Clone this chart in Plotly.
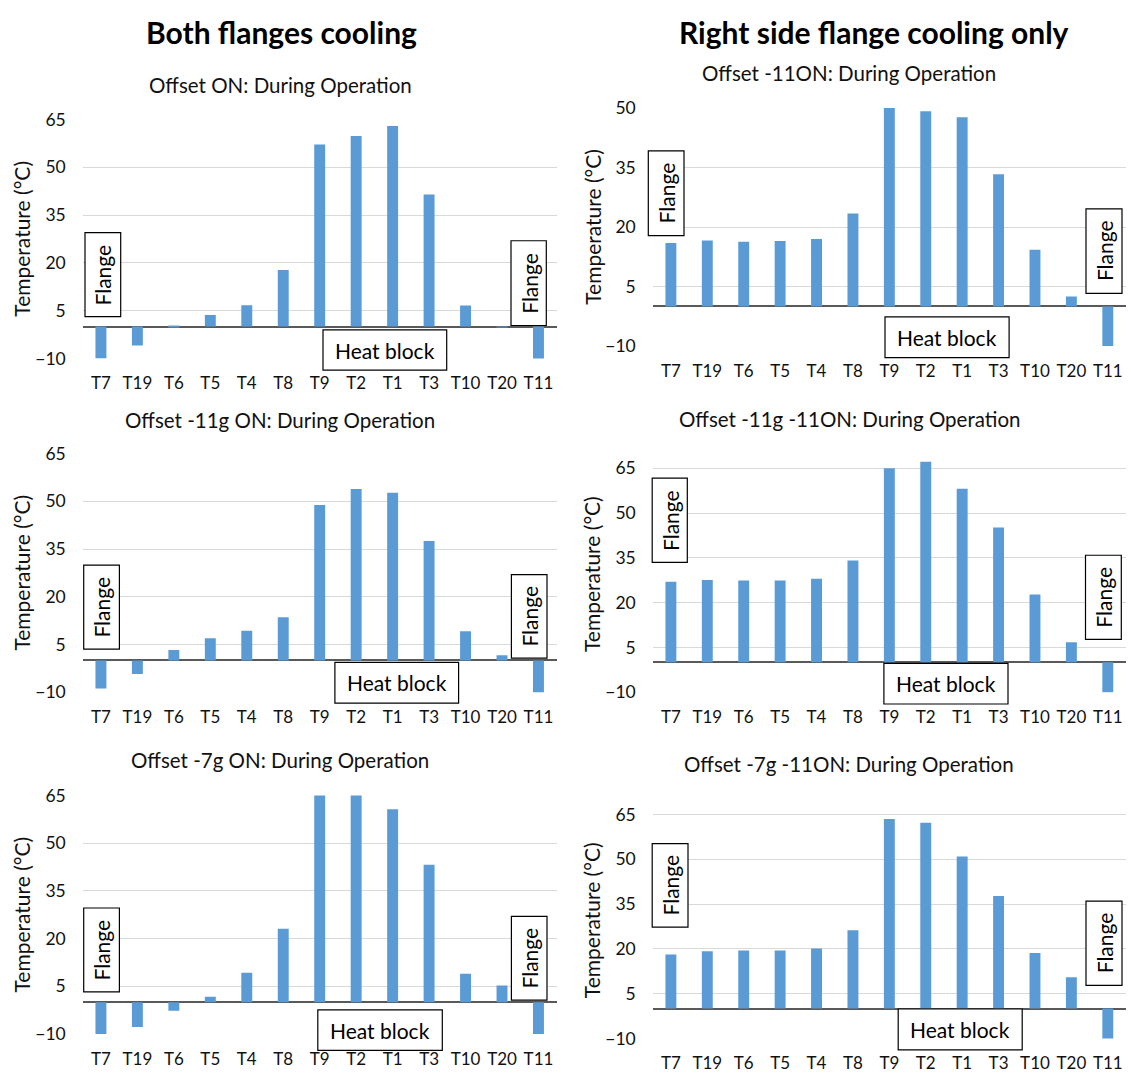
import plotly.graph_objects as go

W, H = 1131, 1084

categories = ["T7", "T19", "T6", "T5", "T4", "T8", "T9", "T2", "T1", "T3", "T10", "T20", "T11"]

both_offset_on = [-10.0, -5.9, 0.2, 3.6, 6.7, 17.8, 57.2, 59.8, 63.0, 41.5, 6.6, -0.3, -10.4]
both_offset_m11g = [-8.8, -4.3, 3.3, 7.0, 9.3, 13.6, 48.8, 53.9, 52.7, 37.5, 9.2, 1.6, -10.2]
both_offset_m7g = [-10.3, -7.8, -2.7, 1.7, 9.3, 23.1, 65.5, 65.5, 60.7, 43.2, 9.0, 5.3, -10.3]
right_offset_m11 = [16.0, 16.6, 16.3, 16.5, 17.0, 23.4, 50.0, 49.2, 47.7, 33.3, 14.3, 2.5, -10.2]
right_offset_m11g = [27.0, 27.6, 27.4, 27.4, 28.0, 34.1, 65.0, 67.2, 58.1, 45.2, 22.7, 6.7, -10.2]
right_offset_m7g = [18.1, 19.2, 19.4, 19.4, 20.1, 26.2, 63.5, 62.2, 50.9, 37.7, 18.6, 10.5, -10.2]

titles = [
    "Offset ON: During Operation",
    "Offset -11ON: During Operation",
    "Offset -11g ON: During Operation",
    "Offset -11g -11ON: During Operation",
    "Offset -7g ON: During Operation",
    "Offset -7g -11ON: During Operation",
]
column_headers = ["Both flanges cooling", "Right side flange cooling only"]
y_title = "Temperature (°C)"
series = [both_offset_on, right_offset_m11, both_offset_m11g,
          right_offset_m11g, both_offset_m7g, right_offset_m7g]
y_ranges = [[-10, 65], [-10, 50], [-10, 65], [-10, 69], [-10, 65], [-10, 69]]

# layout (pixels)
x_doms_px = [(82.7, 556.7), (652.7, 1126.0)] * 3
y_doms_px = [(110.7, 354.3), (99.0, 341.7), (451.3, 694.7),
             (454.1, 694.7), (800.0, 1043.3), (807.1, 1047.7)]
title_pos = [(280, 75), (849, 63), (280, 417), (849, 416), (280, 764), (849, 768)]
header_pos = [(281, 21), (874, 21)]
ytitle_x = [21.7, 591.7] * 3
boxes = [
    [((85, 226), (120.7, 311.7)), ((511, 234.3), (546.3, 320.7)), ((323, 325.2), (446.7, 366.3))],
    [((648.3, 142.7), (684, 229)), ((1086, 201.7), (1122, 288)), ((885, 311.9), (1009.1, 353.4))],
    [((83.7, 565), (119.4, 650.7)), ((511.4, 574.7), (547, 660)), ((334.9, 664.3), (458.6, 705.7))],
    [((652.2, 476.3), (687.3, 562.3)), ((1085.5, 555), (1121.3, 640.7)), ((883.9, 665.3), (1008, 706.7))],
    [((83.7, 914.7), (119.4, 1000.3)), ((511.4, 923.3), (547, 1008.7)), ((317.8, 1018.7), (442.3, 1060))],
    [((652.2, 849), (688, 934.3)), ((1086, 907.7), (1122, 993.7)), ((898.2, 1017.7), (1022.2, 1059.3))],
]
box_texts = ["Flange", "Flange", "Heat block"]

FONT = "Lato, Carlito, 'Open Sans', sans-serif"
TXT = "#111111"
BAR = "#5B9BD5"


def px_x(v):
    return v / W


def px_y(v):
    return 1 - v / H


fig = go.Figure()
layout = dict(
    width=W, height=H, margin=dict(l=0, r=0, t=0, b=0),
    paper_bgcolor="white", plot_bgcolor="white", showlegend=False,
    bargap=0.7, font=dict(family=FONT, size=17, color=TXT),
)
annotations = []
shapes = []

for i in range(6):
    n = "" if i == 0 else str(i + 1)
    fig.add_trace(go.Bar(x=categories, y=series[i], marker=dict(color=BAR, line=dict(width=0)),
                         xaxis="x" + n, yaxis="y" + n, hoverinfo="x+y"))
    xd = x_doms_px[i]
    yd = y_doms_px[i]
    layout["xaxis" + n] = dict(
        domain=[px_x(xd[0]), px_x(xd[1])], anchor="y" + n, type="category",
        showgrid=False, showline=False, zeroline=False, ticks="",
        tickfont=dict(family=FONT, size=17, color=TXT), ticklabelstandoff=13,
        fixedrange=True,
    )
    layout["yaxis" + n] = dict(
        domain=[px_y(yd[1]), px_y(yd[0])], anchor="x" + n, range=y_ranges[i],
        tickmode="linear", tick0=-10, dtick=15,
        showgrid=True, gridcolor="#D9D9D9", gridwidth=1,
        zeroline=True, zerolinecolor="#595959", zerolinewidth=1.5,
        showline=False, ticks="", ticklabelstandoff=16,
        tickfont=dict(family=FONT, size=17.5, color=TXT), fixedrange=True,
    )
    tx, ty = title_pos[i]
    annotations.append(dict(text=titles[i], x=px_x(tx), y=px_y(ty), xref="paper", yref="paper",
                            showarrow=False, xanchor="center", yanchor="middle",
                            font=dict(family=FONT, size=20.5, color=TXT)))
    annotations.append(dict(text=y_title, x=px_x(ytitle_x[i]), y=px_y((yd[0] + yd[1]) / 2),
                            xref="paper", yref="paper", showarrow=False, textangle=-90,
                            xanchor="center", yanchor="middle",
                            font=dict(family=FONT, size=21, color=TXT)))
    for j, ((x0, y0), (x1, y1)) in enumerate(boxes[i]):
        shapes.append(dict(type="rect", xref="paper", yref="paper",
                           x0=px_x(x0), x1=px_x(x1), y0=px_y(y1), y1=px_y(y0),
                           line=dict(color="black", width=1.2), fillcolor="white", layer="above"))
        annotations.append(dict(text=box_texts[j], x=px_x((x0 + x1) / 2), y=px_y((y0 + y1) / 2),
                                xref="paper", yref="paper", showarrow=False,
                                textangle=-90 if j < 2 else 0,
                                xanchor="center", yanchor="middle",
                                font=dict(family=FONT, size=21, color="black")))

for k in range(2):
    hx, hy = header_pos[k]
    annotations.append(dict(text="<b>" + column_headers[k] + "</b>", x=px_x(hx), y=px_y(hy),
                            xref="paper", yref="paper", showarrow=False,
                            xanchor="center", yanchor="middle",
                            font=dict(family=FONT, size=30, color="black")))

layout["annotations"] = annotations
layout["shapes"] = shapes
fig.update_layout(**layout)
fig.write_html("out.html", config={"displayModeBar": False})
